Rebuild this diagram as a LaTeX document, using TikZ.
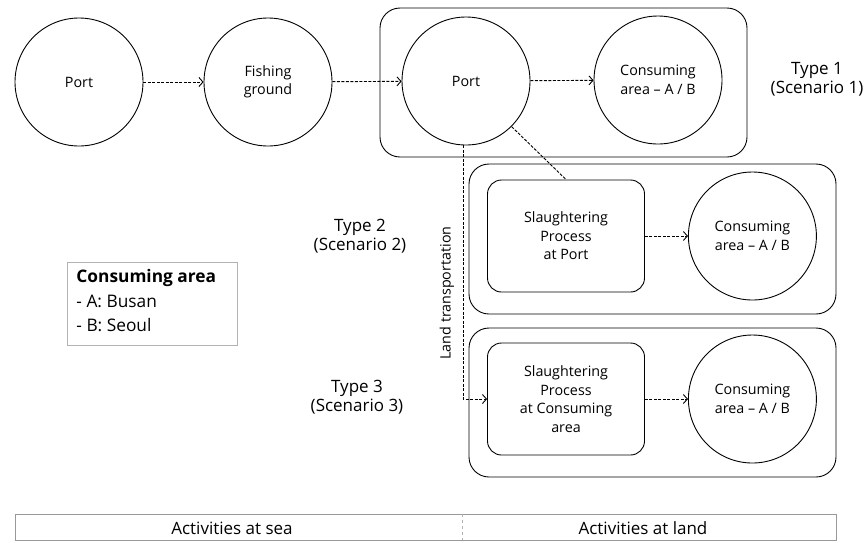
\documentclass[tikz,border=0pt]{standalone}
\usepackage{fontspec}
\setmainfont{Open Sans}
\usepackage{tikz}
\usetikzlibrary{positioning,arrows.meta}

\begin{document}
\begin{tikzpicture}[
  x=1pt, y=-1pt, line width=0.9pt,
  font=\fontsize{14.3}{18.5}\selectfont,
  place/.style={draw, circle, minimum size=128pt, inner sep=0pt, align=center},
  process/.style={draw, rounded corners=14pt, minimum width=157pt, minimum height=112pt, align=center},
  group/.style={draw, rounded corners=20pt},
  flow/.style={-{Straight Barb[length=4pt,width=9pt]}, dashed, dash pattern=on 3pt off 1.5pt},
  link/.style={dashed, dash pattern=on 3pt off 1.5pt},
  label/.style={align=center, font=\fontsize{17}{19}\selectfont}
]
\useasboundingbox (0,0) rectangle (866,542);

% scenario groups
\draw[group] (380,8) rectangle (747,157);
\draw[group] (469,164) rectangle (836,314);
\draw[group] (469,328) rectangle (836,477);

% sea and port
\node[place] (port1) at (79,82) {Port};
\node[place] (fish) at (268,82) {Fishing\\ground};
\node[place] (port2) at (466,81) {Port};
\node[place] (cons1) at (658,80) {Consuming\\area -- A / B};

% slaughtering
\node[process] (slaughter2) at (566,236) {Slaughtering\\Process\\at Port};
\node[place, right=43pt of slaughter2] (cons2) {Consuming\\area -- A / B};
\node[process] (slaughter3) at (566,399) {Slaughtering\\Process\\at Consuming\\area};
\node[place, right=43pt of slaughter3] (cons3) {Consuming\\area -- A / B};

\draw[flow] (port1) -- (fish);
\draw[flow] (fish) -- (port2);
\draw[flow] (port2) -- (cons1);
\draw[link] (port2.-45) -- (slaughter2.north);
\draw[flow] (slaughter2) -- (cons2);
\draw[flow] (slaughter3) -- (cons3);
\draw[flow] (port2.south -| 463,0) |- (slaughter3.west);

\node[rotate=90] (land) at (447,293) {Land transportation};

% types
\node[label] (type1) at (817,79) {Type 1\\(Scenario 1)};
\node[label] (type2) at (360,236) {Type 2\\(Scenario 2)};
\node[label] (type3) at (357,397) {Type 3\\(Scenario 3)};

% legend
\draw[black!30] (67,262) rectangle (237,345);
\node[anchor=north west, align=left, inner sep=0pt, font=\fontsize{17.3}{24.5}\selectfont]
  (legend) at (76,269) {\textbf{Consuming area}\\- A: Busan\\- B: Seoul};

% bottom bar
\draw[black!40] (15,514) rectangle (836,540);
\draw[black!30, dashed, line width=0.6pt] (462,514) -- (462,540);
\node[font=\fontsize{17}{20}\selectfont] (sea) at (232,528) {Activities at sea};
\node[font=\fontsize{17}{20}\selectfont] (land2) at (643,528) {Activities at land};
\end{tikzpicture}
\end{document}
